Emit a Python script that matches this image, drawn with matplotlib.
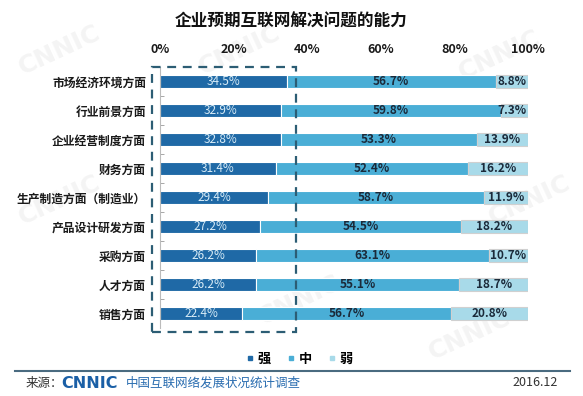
import matplotlib.pyplot as plt
from matplotlib.patches import Rectangle
from matplotlib.lines import Line2D
import matplotlib.transforms as mtransforms

plt.rcParams['font.family'] = ['Noto Sans CJK SC', 'DejaVu Sans']

# data
categories = ['市场经济环境方面', '行业前景方面', '企业经营制度方面', '财务方面',
              '生产制造方面（制造业）', '产品设计研发方面', '采购方面', '人才方面', '销售方面']
strong = [34.5, 32.9, 32.8, 31.4, 29.4, 27.2, 26.2, 26.2, 22.4]
mid = [56.7, 59.8, 53.3, 52.4, 58.7, 54.5, 63.1, 55.1, 56.7]
weak = [8.8, 7.3, 13.9, 16.2, 11.9, 18.2, 10.7, 18.7, 20.8]
series_names = ['强', '中', '弱']
xticks = [0, 20, 40, 60, 80, 100]

c_strong = '#1f69a6'
c_mid = '#4aaed6'
c_weak = '#a8dae9'

fig = plt.figure(figsize=(5.83, 3.96), dpi=100)
ax = fig.add_axes([160/583, 1-328/396, 368/583, 261/396])
ax.patch.set_alpha(0)

# faint watermark
for wx, wy in [(60, 50), (240, 50), (500, 55), (60, 200), (530, 200),
               (300, 300), (470, 335)]:
    fig.text(wx/583, 1-wy/396, 'CNNIC', ha='center', va='center', fontsize=18,
             fontweight='bold', color='#f4f4f4', rotation=25, zorder=-5,
             family='DejaVu Sans')

y = list(range(len(categories)))
h = 0.42
left2 = [s for s in strong]
left3 = [s + m for s, m in zip(strong, mid)]
ax.barh(y, strong, height=h, color=c_strong, edgecolor='white', linewidth=0.8)
ax.barh(y, mid, left=left2, height=h, color=c_mid, edgecolor='white', linewidth=0.8)
ax.barh(y, weak, left=left3, height=h, color=c_weak, edgecolor='#d0d0d0', linewidth=0.8)

for i in y:
    ax.text(strong[i] / 2, i, f'{strong[i]}%', ha='center', va='center',
            fontsize=8.5, color='#d8ecf7')
    ax.text(left2[i] + mid[i] / 2, i, f'{mid[i]}%', ha='center', va='center',
            fontsize=8.5, color='#1b2a3a', fontweight='bold')
    if weak[i] < 10:
        ax.text(99.5, i, f'{weak[i]}%', ha='right', va='center',
                fontsize=8.5, color='#1b2a3a', fontweight='bold')
    else:
        ax.text(left3[i] + weak[i] / 2, i, f'{weak[i]}%', ha='center', va='center',
                fontsize=8.5, color='#1b2a3a', fontweight='bold')

ax.set_xlim(0, 100)
ax.set_ylim(len(categories) - 0.5, -0.5)
ax.set_xticks(xticks)
ax.set_xticklabels([f'{t}%' for t in xticks], fontweight='bold', fontsize=9, color='#1a1a1a')
ax.xaxis.tick_top()
ax.tick_params(axis='x', length=0, pad=8)
ax.set_yticks(y)
ax.set_yticklabels(categories, fontweight='bold', fontsize=8.5, color='#1a1a1a')
ax.tick_params(axis='y', length=0, pad=10)
ax.set_yticks([i + 0.5 for i in y[:-1]], minor=True)
ax.tick_params(axis='y', which='minor', length=3, direction='in', color='#999999')
for s in ['top', 'right', 'bottom']:
    ax.spines[s].set_visible(False)
ax.spines['left'].set_color('#bbbbbb')
ax.spines['left'].set_linewidth(0.8)

# dashed highlight box around the strong segment
trans = mtransforms.blended_transform_factory(ax.transData, fig.transFigure)
box = Rectangle((-2.2, 1-332/396), 39.2, 265/396, transform=trans, fill=False,
                edgecolor='#2c5d74', linestyle=(0, (4, 3)), linewidth=1.6, clip_on=False)
fig.add_artist(box)

fig.text(0.5, 1-22/396, '企业预期互联网解决问题的能力', ha='center', va='center',
         fontsize=12, fontweight='bold', color='#111111')

handles = [Line2D([], [], marker='s', linestyle='', markersize=3.5, color=c)
           for c in [c_strong, c_mid, c_weak]]
fig.legend(handles, series_names, loc='center', bbox_to_anchor=(0.51, 1-359/396),
           ncol=3, frameon=False, handletextpad=0.0, handlelength=1.2,
           columnspacing=0.9, prop={'weight': 'bold', 'size': 9.5})

fig.add_artist(Line2D([15/583, 570/583], [1-371/396, 1-371/396], color='#4a6b80', linewidth=1.5))
fig.text(26/583, 1-383/396, '来源：', ha='left', va='center', fontsize=9, color='#333333')
fig.text(61/583, 1-383/396, 'CNNIC', ha='left', va='center', fontsize=11.5,
         fontweight='bold', color='#1a5fa6', family='DejaVu Sans')
fig.text(126/583, 1-383/396, '中国互联网络发展状况统计调查', ha='left', va='center',
         fontsize=9, color='#2a6db0')
fig.text(558/583, 1-383/396, '2016.12', ha='right', va='center', fontsize=9, color='#333333')

fig.savefig('out.png', dpi=100)
